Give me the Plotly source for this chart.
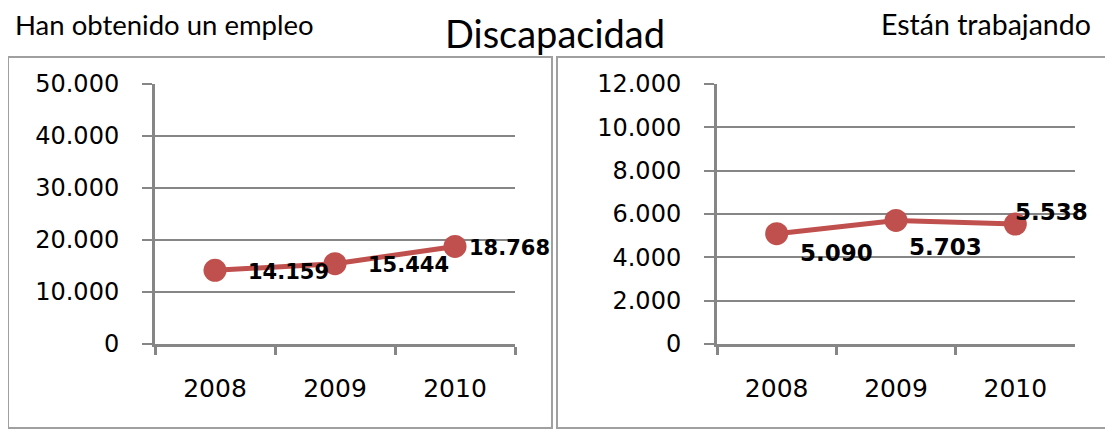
import plotly.graph_objects as go

years = ["2008", "2009", "2010"]
empleo = [14159, 15444, 18768]
trabajando = [5090, 5703, 5538]

titulo = "Discapacidad"
titulo_izq = "Han obtenido un empleo"
titulo_der = "Están trabajando"

rango_izq = [0, 50000]
rango_der = [0, 12000]
paso_izq = 10000
paso_der = 2000

# desplazamiento (px) de las etiquetas de datos respecto al punto
offs_izq = [(31, -2), (31, -1), (12, -2)]
offs_der = [(21, -19), (11, -27), (-2, 12)]

ROJO = "#C0504D"
GRIS = "#868686"
W, H = 1113, 430
OFF = 8  # margen del body de la pagina


def px(x):
    return (x - OFF) / W


def py(y):
    return 1 - (y - OFF) / H


def fmt(v):
    return f"{v:,}".replace(",", ".")


fig = go.Figure()
fig.add_trace(go.Scatter(x=years, y=empleo, mode="lines+markers",
                         line=dict(color=ROJO, width=5),
                         marker=dict(color=ROJO, size=23),
                         xaxis="x", yaxis="y", showlegend=False, hoverinfo="skip"))
fig.add_trace(go.Scatter(x=years, y=trabajando, mode="lines+markers",
                         line=dict(color=ROJO, width=5),
                         marker=dict(color=ROJO, size=23),
                         xaxis="x2", yaxis="y2", showlegend=False, hoverinfo="skip"))


def eje_x(dom, anchor):
    return dict(domain=dom, anchor=anchor, type="category", range=[-0.5, 2.5],
                automargin=False,
                showline=True, linecolor=GRIS, linewidth=3,
                ticks="outside", tickson="boundaries", ticklen=8, tickwidth=3, tickcolor=GRIS,
                showgrid=False, ticklabelstandoff=20,
                tickfont=dict(family="DejaVu Sans", size=25, color="black"))


def eje_y(rng, paso, anchor):
    return dict(domain=[py(344), py(84)], anchor=anchor, range=rng, dtick=paso,
                automargin=False,
                tickformat=",d", showgrid=True, gridcolor=GRIS, gridwidth=2,
                showline=True, linecolor=GRIS, linewidth=3, zeroline=False,
                ticks="outside", ticklen=10, tickwidth=2, tickcolor=GRIS,
                ticklabelstandoff=18,
                tickfont=dict(family="DejaVu Sans", size=24, color="black"))


anots = []
for ys, offs, ref, tam in [(empleo, offs_izq, "", 21), (trabajando, offs_der, "2", 23)]:
    for i, (yv, (dx, dy)) in enumerate(zip(ys, offs)):
        anots.append(dict(x=i, y=yv, xref="x" + ref, yref="y" + ref, text="<b>" + fmt(yv) + "</b>",
                          showarrow=False, xanchor="left", yanchor="middle",
                          xshift=dx, yshift=dy,
                          font=dict(family="DejaVu Sans", size=tam, color="black")))

anots.append(dict(x=px(13), y=py(24), xref="paper", yref="paper", text=titulo_izq,
                  showarrow=False, xanchor="left", yanchor="middle",
                  font=dict(family="Lato", size=27.5, color="black")))
anots.append(dict(x=px(555), y=1, xref="paper", yref="paper", text=titulo,
                  showarrow=False, xanchor="center", yanchor="top",
                  font=dict(family="Lato", size=38, color="black")))
anots.append(dict(x=px(1093), y=py(24), xref="paper", yref="paper", text=titulo_der,
                  showarrow=False, xanchor="right", yanchor="middle",
                  font=dict(family="Lato", size=28.5, color="black")))

marcos = []
for x0, x1 in [(8, 552), (557, 1110)]:
    marcos.append(dict(type="rect", xref="paper", yref="paper",
                       x0=px(x0), x1=px(x1), y0=py(428), y1=py(57),
                       line=dict(color="#A0A0A0", width=2), layer="below"))

fig.update_layout(
    template="none",
    width=W, height=H,
    margin=dict(l=0, r=0, t=0, b=0, pad=0),
    paper_bgcolor="white", plot_bgcolor="white",
    separators=",.",
    xaxis=eje_x([px(155), px(515)], "y"),
    yaxis=eje_y(rango_izq, paso_izq, "x"),
    xaxis2=eje_x([px(717), px(1075)], "y2"),
    yaxis2=eje_y(rango_der, paso_der, "x2"),
    annotations=anots,
    shapes=marcos,
)

fig.write_html("out.html")
